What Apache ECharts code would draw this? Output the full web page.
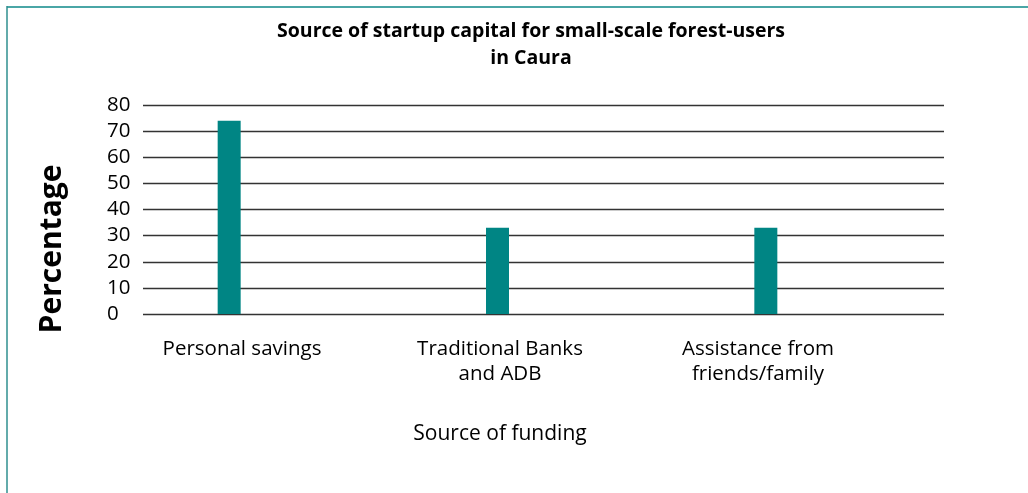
<!DOCTYPE html>
<html>
<head>
<meta charset="utf-8">
<script src="https://cdn.jsdelivr.net/npm/echarts@6/dist/echarts.min.js"></script>
<style>
  html, body { margin: 0; padding: 0; background: #ffffff; }
  #chart { width: 1028px; height: 493px; }
</style>
</head>
<body>
<div id="chart"></div>
<script>
// Startup capital sources, share of forest-users (%)
const categories = ['Personal savings', 'Traditional Banks\nand ADB', 'Assistance from\nfriends/family'];
const percentages = [74, 33, 33];
const yTicks = [0, 10, 20, 30, 40, 50, 60, 70, 80];

const FONT = '"Open Sans", "Noto Sans", sans-serif';
const TEAL = '#008584';

const chart = echarts.init(document.getElementById('chart'), null, { renderer: 'canvas' });

const yMin = yTicks[0];
const yMax = yTicks[yTicks.length - 1];
const yStep = yTicks[1] - yTicks[0];

chart.setOption({
  animation: false,
  backgroundColor: '#ffffff',
  title: {
    text: 'Source of startup capital for small-scale forest-users\nin Caura',
    left: 526,
    textAlign: 'center',
    top: 13,
    textStyle: {
      fontFamily: FONT,
      fontWeight: 'bold',
      fontSize: 19.5,
      lineHeight: 27,
      color: '#000000'
    }
  },
  grid: [
    // gridlines and value labels
    { left: 143, right: 84, top: 105, bottom: 179 },
    // bars
    { left: 95, right: 128, top: 105, bottom: 179 },
    // category labels and axis title
    { left: 113, right: 141, top: 105, bottom: 179 }
  ],
  xAxis: [
    {
      gridIndex: 0,
      type: 'category',
      data: categories,
      show: false
    },
    {
      gridIndex: 1,
      type: 'category',
      data: categories,
      show: false
    },
    {
      gridIndex: 2,
      type: 'category',
      data: categories,
      axisLine: { show: false },
      axisTick: { show: false },
      axisLabel: {
        margin: 23,
        fontFamily: FONT,
        fontSize: 20.5,
        lineHeight: 25,
        color: '#000000'
      },
      name: 'Source of funding',
      nameLocation: 'middle',
      nameGap: 110,
      nameTextStyle: {
        fontFamily: FONT,
        fontSize: 21,
        color: '#000000'
      }
    }
  ],
  yAxis: [
    {
      gridIndex: 0,
      type: 'value',
      min: yMin,
      max: yMax,
      interval: yStep,
      axisLine: { show: false },
      axisTick: { show: false },
      axisLabel: {
        align: 'left',
        margin: 36,
        fontFamily: FONT,
        fontSize: 20.5,
        color: '#000000'
      },
      splitLine: { lineStyle: { color: '#333333', width: 1.3 } }
    },
    {
      gridIndex: 1,
      type: 'value',
      min: yMin,
      max: yMax,
      interval: yStep,
      show: false,
      splitLine: { show: false }
    },
    {
      gridIndex: 2,
      type: 'value',
      min: yMin,
      max: yMax,
      interval: yStep,
      show: false,
      splitLine: { show: false }
    }
  ],
  series: [
    {
      type: 'bar',
      xAxisIndex: 1,
      yAxisIndex: 1,
      data: percentages,
      barWidth: 23,
      itemStyle: { color: TEAL }
    }
  ],
  graphic: [
    {
      type: 'text',
      x: 52,
      y: 249,
      rotation: Math.PI / 2,
      style: {
        text: 'Percentage',
        font: 'bold 30px ' + FONT,
        fill: '#000000',
        align: 'center',
        verticalAlign: 'middle'
      }
    },
    {
      type: 'line',
      shape: { x1: 7, y1: 7, x2: 1028, y2: 7 },
      style: { stroke: '#4aa6a6', lineWidth: 2 }
    },
    {
      type: 'line',
      shape: { x1: 7, y1: 6, x2: 7, y2: 493 },
      style: { stroke: '#2f8f8f', lineWidth: 1.5 }
    }
  ]
});
</script>
</body>
</html>
